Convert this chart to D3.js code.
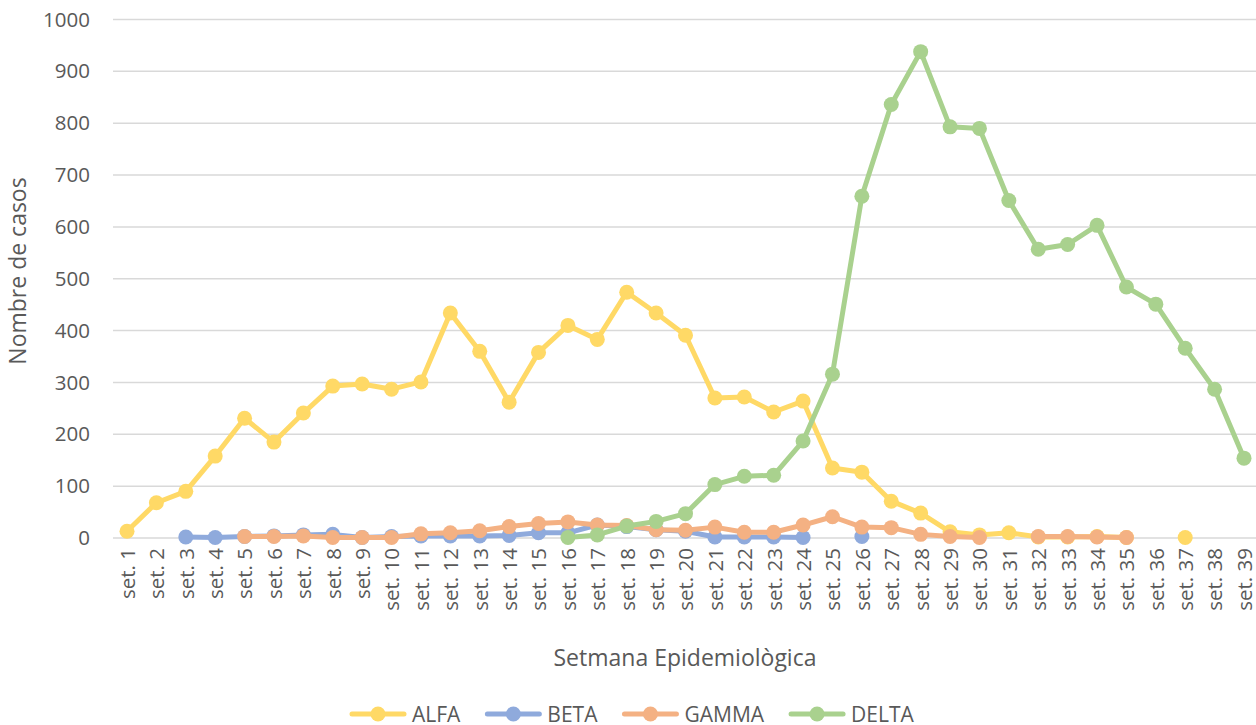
<!DOCTYPE html>
<html>
<head>
<meta charset="utf-8">
<script src="https://cdn.jsdelivr.net/npm/d3@7"></script>
<style>
  body { margin: 0; background: #fff; }
  svg text { font-family: "Open Sans", sans-serif; fill: #595959; }
</style>
</head>
<body>
<svg id="chart" width="1256" height="725"></svg>
<script>
var weeks = d3.range(1, 40).map(function(i) { return "set. " + i; });

var alfa = [13, 68, 90, 158, 231, 185, 241, 293, 297, 287, 301, 434, 360, 262, 358, 410, 383, 474, 434, 391,
            270, 272, 243, 264, 135, 127, 71, 48, 12, 6, 10, 2, 2, 3, 1, null, 1, null, null];
var beta = [null, null, 2, 1, 3, 4, 6, 7, 1, 3, 4, 4, 4, 5, 10, 10, 25, 22, 16, 13,
            2, 2, 2, 1, null, 3, null, null, null, null, null, null, null, null, null, null, null, null, null];
var gamma = [null, null, null, null, 3, 3, 4, 1, 1, 1, 8, 10, 14, 22, 28, 31, 25, 24, 16, 15,
             21, 11, 11, 25, 41, 21, 20, 7, 3, 1, null, 3, 3, 2, 1, null, null, null, null];
var delta = [null, null, null, null, null, null, null, null, null, null, null, null, null, null, null, 1, 6, 23, 32, 47,
             103, 119, 121, 187, 316, 659, 836, 938, 793, 790, 651, 557, 566, 603, 484, 451, 366, 287, 154];

var seriesNames = ["ALFA", "BETA", "GAMMA", "DELTA"];
var seriesColors = ["#FFD966", "#8FAADC", "#F4B183", "#A9D18E"];
var yTicks = [0, 100, 200, 300, 400, 500, 600, 700, 800, 900, 1000];

var svg = d3.select("#chart");
var allSeries = [alfa, beta, gamma, delta];

var xScale = d3.scalePoint()
               .domain(weeks)
               .range([127, 1244]);
var yScale = d3.scaleLinear()
               .domain([0, 1000])
               .range([538, 19.5]);

// gridlines
svg.append("g")
   .selectAll("line")
   .data(yTicks)
   .enter().append("line")
   .attr("x1", 113).attr("x2", 1256)
   .attr("y1", function(d) { return yScale(d); })
   .attr("y2", function(d) { return yScale(d); })
   .attr("stroke", "#D9D9D9")
   .attr("stroke-width", 1.5);

// y axis labels
var yAxis = d3.axisLeft(yScale).tickValues(yTicks).tickFormat(d3.format("d")).tickSize(0).tickPadding(0);
var yg = svg.append("g")
            .attr("transform", "translate(90,0)")
            .call(yAxis);
yg.select(".domain").remove();
yg.selectAll("text")
  .style("font-size", "20.5px")
  .style("fill", "#595959")
  .style("font-family", "'Open Sans', sans-serif");

// x axis labels (rotated)
var xAxis = d3.axisBottom(xScale).tickSize(0).tickPadding(0);
var xg = svg.append("g")
            .attr("transform", "translate(0,548)")
            .call(xAxis);
xg.select(".domain").remove();
xg.selectAll("text")
  .attr("transform", "rotate(-90)")
  .attr("text-anchor", "end")
  .attr("x", 0)
  .attr("y", 0)
  .attr("dy", "0.36em")
  .style("font-size", "20.5px")
  .style("fill", "#595959")
  .style("font-family", "'Open Sans', sans-serif");

// axis titles
svg.append("text")
   .attr("x", 685)
   .attr("y", 666)
   .attr("text-anchor", "middle")
   .style("font-size", "23px")
   .text("Setmana Epidemiològica");

svg.append("text")
   .attr("transform", "translate(26,271) rotate(-90)")
   .attr("text-anchor", "middle")
   .style("font-size", "23px")
   .text("Nombre de casos");

// series
var line = d3.line()
             .defined(function(d) { return d != null; })
             .x(function(d, i) { return xScale(weeks[i]); })
             .y(function(d) { return yScale(d); });

allSeries.forEach(function(values, s) {
  var g = svg.append("g").attr("class", "series-" + seriesNames[s]);

  g.append("path")
   .datum(values)
   .attr("fill", "none")
   .attr("stroke", seriesColors[s])
   .attr("stroke-width", 5)
   .attr("stroke-linejoin", "round")
   .attr("d", line);

  g.selectAll("circle")
   .data(values.map(function(v, i) { return { v: v, w: weeks[i] }; })
               .filter(function(d) { return d.v != null; }))
   .enter().append("circle")
   .attr("cx", function(d) { return xScale(d.w); })
   .attr("cy", function(d) { return yScale(d.v); })
   .attr("r", 7.5)
   .attr("fill", seriesColors[s]);
});

// legend
var legend = svg.append("g").attr("transform", "translate(352,714)");
var lx = 0;
seriesNames.forEach(function(name, s) {
  var item = legend.append("g").attr("transform", "translate(" + lx + ",0)");
  item.append("line")
      .attr("x1", 0).attr("x2", 52)
      .attr("y1", 0).attr("y2", 0)
      .attr("stroke", seriesColors[s])
      .attr("stroke-width", 5)
      .attr("stroke-linecap", "round");
  item.append("circle")
      .attr("cx", 26).attr("cy", 0)
      .attr("r", 7.5)
      .attr("fill", seriesColors[s]);
  var t = item.append("text")
              .attr("x", 60)
              .attr("dy", "0.36em")
              .style("font-size", "21px")
              .text(name);
  lx += 60 + t.node().getComputedTextLength() + 27;
});
</script>
</body>
</html>
